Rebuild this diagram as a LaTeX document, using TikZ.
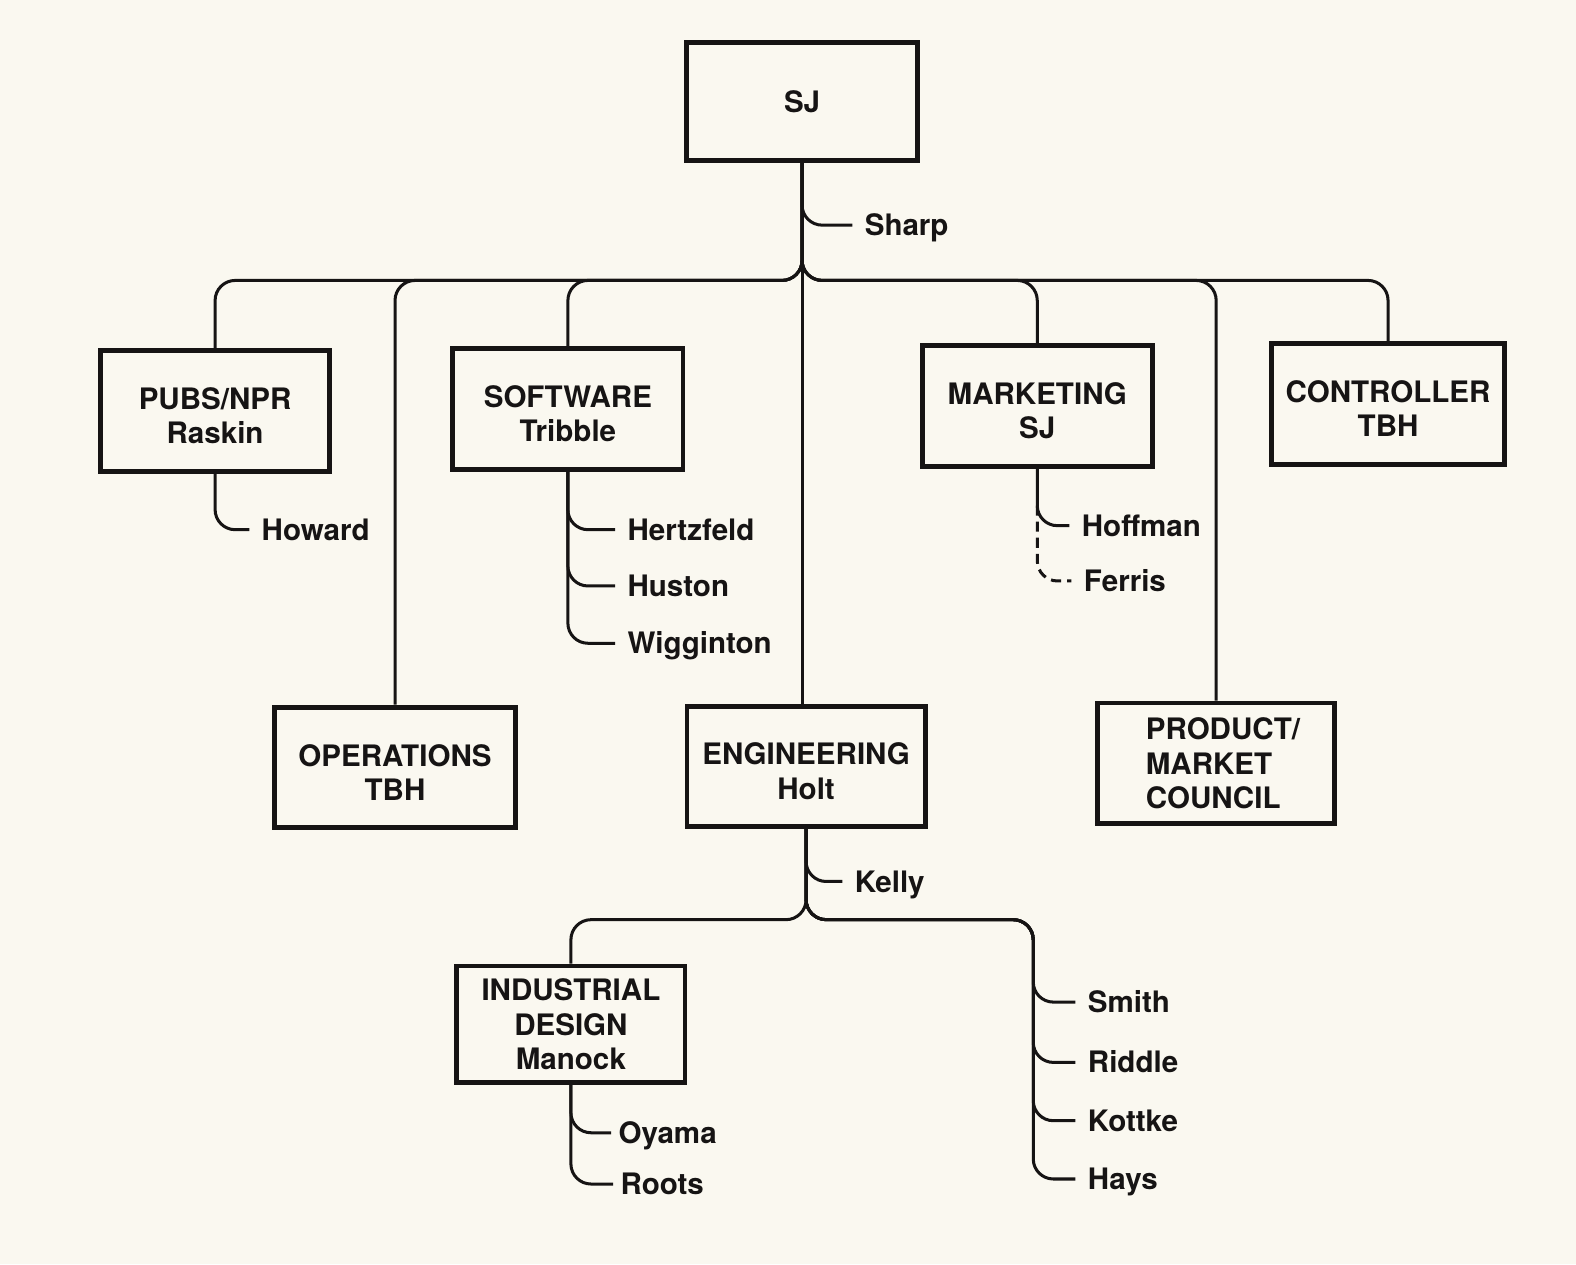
\documentclass[tikz,border=0pt]{standalone}
\usepackage{fontspec}
\setmainfont{TeX Gyre Heros}
\usetikzlibrary{calc}
\definecolor{paper}{RGB}{250,248,240}
\definecolor{ink}{RGB}{22,20,20}
\newcommand{\lowtext}[1]{\raisebox{-2.4pt}[\height][\depth]{#1}}

\begin{document}
\begin{tikzpicture}[x=0.5pt,y=-0.5pt,
    font=\fontsize{14.7}{17}\selectfont\bfseries,
    unit/.style={draw=ink,line width=2.4pt,minimum height=60pt,inner sep=0pt,align=center,text=ink},
    staff/.style={anchor=west,inner xsep=6pt,inner ysep=0pt,text height=10.5pt,text depth=0pt,text=ink},
    link/.style={draw=ink,line width=1.5pt,rounded corners=10pt}]
    \pgfmathsetmacro{\busY}{279}
    \pgfmathsetmacro{\engBusY}{915}

    \fill[paper] (0,0) rectangle (1568,1257.6);
    \useasboundingbox (0,0) rectangle (1568,1257.6);

    % boxes
    \node (SJ) [unit,minimum width=115pt,minimum height=59pt] at (798,101) {SJ};
    \node (PUBS) [unit,minimum width=114pt] at (214,409) {\lowtext{PUBS/NPR}\\\lowtext{Raskin}};
    \node (SW) [unit,minimum width=114.5pt] at (565,407) {\lowtext{SOFTWARE}\\\lowtext{Tribble}};
    \node (MKT) [unit,minimum width=114.5pt] at (1032,404) {\lowtext{MARKETING}\\\lowtext{SJ}};
    \node (CTRL) [unit,minimum width=116pt] at (1381,402) {\lowtext{CONTROLLER}\\\lowtext{TBH}};
    \node (OPS) [unit,minimum width=119.5pt] at (393,763.5) {\lowtext{OPERATIONS}\\\lowtext{TBH}};
    \node (ENG) [unit,minimum width=118.5pt] at (802,762.5) {\lowtext{ENGINEERING}\\\lowtext{Holt}};
    \node (PMC) [unit,minimum width=118pt,text width=70pt,align=left] at (1210,759.5) {PRODUCT/\\MARKET\\COUNCIL};
    \node (IND) [unit,minimum width=113.5pt,minimum height=58pt] at (568,1019) {INDUSTRIAL\\DESIGN\\Manock};

    % people
    \node (Sharp) [staff] at (848,224) {Sharp};
    \node (Howard) [staff] at (248,527) {Howard};
    \node (Hertzfeld) [staff] at (612,527) {Hertzfeld};
    \node (Huston) [staff] at (612,583) {Huston};
    \node (Wigginton) [staff] at (612,640) {Wigginton};
    \node (Hoffman) [staff] at (1064,523) {Hoffman};
    \node (Ferris) [staff] at (1066,578) {Ferris};
    \node (Kelly) [staff] at (838,877) {Kelly};
    \node (Smith) [staff] at (1070,997) {Smith};
    \node (Riddle) [staff] at (1070,1057) {Riddle};
    \node (Kottke) [staff] at (1070,1115) {Kottke};
    \node (Hays) [staff] at (1070,1173) {Hays};
    \node (Oyama) [staff,inner xsep=3.5pt] at (608,1127) {Oyama};
    \node (Roots) [staff,inner xsep=3.5pt] at (610,1178) {Roots};

    \coordinate (bus) at (798,\busY);
    \coordinate (ebus) at (802,\engBusY);
    \coordinate (tech) at (1028,\engBusY);

    % top level
    \draw[link] (SJ.south) -- (SJ.south |- ENG.north);
    \draw[link] (SJ.south) |- (Sharp.west);
    \foreach \n in {PUBS,OPS,SW,MKT,PMC,CTRL}
        \draw[link] (SJ.south) |- (\n.north |- bus) -- (\n.north);

    % groups
    \draw[link] (PUBS.south) |- (Howard.west);
    \foreach \n in {Hertzfeld,Huston,Wigginton}
        \draw[link] (SW.south) |- (\n.west);
    \draw[link] (MKT.south) |- (Hoffman.west);
    \draw[link,dash pattern=on 5pt off 3pt] ($(MKT.south |- Hoffman.west)+(0,-20)$) |- (Ferris.west);

    % engineering
    \draw[link] (ENG.south) |- (Kelly.west);
    \draw[link] (ENG.south) |- (IND.north |- ebus) -- (IND.north);
    \foreach \n in {Smith,Riddle,Kottke,Hays}
        \draw[link] (ENG.south) |- (tech) |- (\n.west);
    \foreach \n in {Oyama,Roots}
        \draw[link] (IND.south) |- (\n.west);
\end{tikzpicture}
\end{document}
